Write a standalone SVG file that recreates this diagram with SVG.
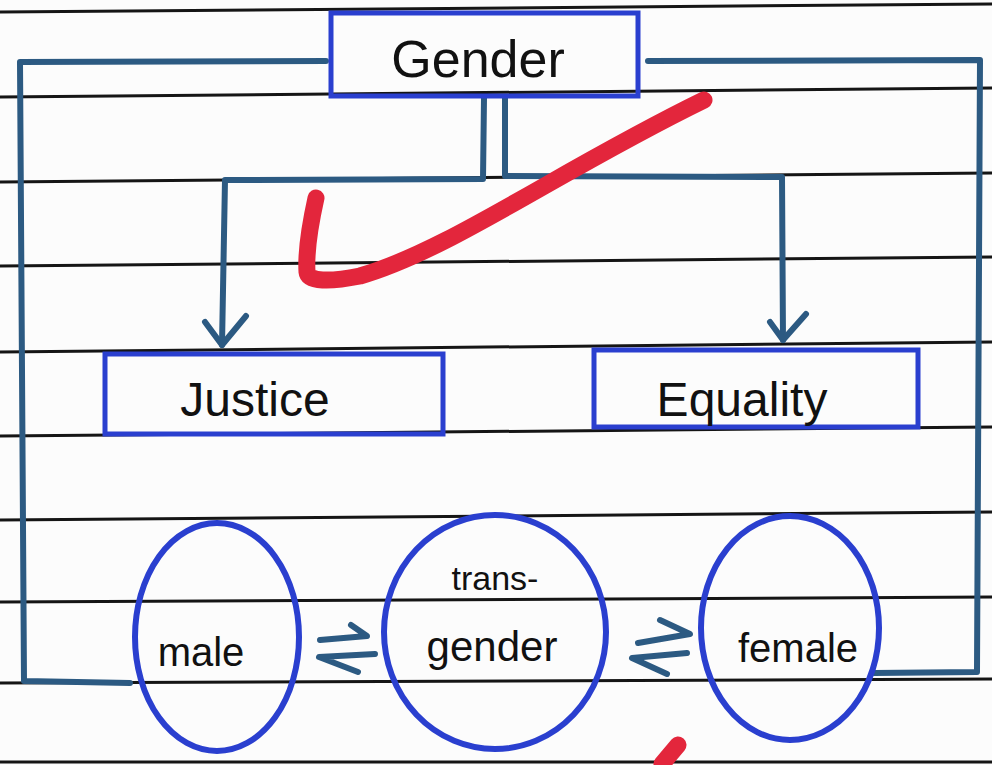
<svg xmlns="http://www.w3.org/2000/svg" width="992" height="765" viewBox="0 0 992 765">
  <style>
    .rule { stroke: #151515; stroke-width: 3; }
    .conn { fill: none; stroke: #2c5a82; stroke-width: 6; stroke-linecap: round; stroke-linejoin: round; }
    .box { fill: none; stroke: #2a3fcf; stroke-width: 5; }
    .oval { fill: none; stroke: #2a3fcf; stroke-width: 6; }
    .lbl { font-family: "Liberation Sans", "DejaVu Sans", sans-serif; fill: #111; text-anchor: middle; }
    .check { fill: none; stroke: #e3263c; stroke-width: 17; stroke-linecap: round; stroke-linejoin: round; }
  </style>
  <rect x="0" y="0" width="992" height="765" fill="#fcfcfc"/>
  <g id="ruled-lines">
    <line class="rule" x1="0" y1="12" x2="992" y2="4"/>
    <line class="rule" x1="0" y1="97" x2="992" y2="88"/>
    <line class="rule" x1="0" y1="182" x2="992" y2="173"/>
    <line class="rule" x1="0" y1="266" x2="992" y2="257"/>
    <line class="rule" x1="0" y1="352" x2="992" y2="342"/>
    <line class="rule" x1="0" y1="436" x2="992" y2="427"/>
    <line class="rule" x1="0" y1="520" x2="992" y2="512"/>
    <line class="rule" x1="0" y1="602" x2="992" y2="597"/>
    <line class="rule" x1="0" y1="683" x2="992" y2="679"/>
    <line class="rule" x1="0" y1="762" x2="992" y2="762"/>
  </g>
  <g id="connectors">
    <polyline class="conn" points="326,61 20,62 24,681 130,683"/>
    <polyline class="conn" points="648,61 980,60 977,672 874,673"/>
    <polyline class="conn" points="484,98 483,179 225,180 222,345"/>
    <polyline class="conn" points="505,98 505,176 782,177 783,340"/>
    <polyline class="conn" points="205,322 222,345 246,316"/>
    <polyline class="conn" points="770,322 783,340 806,314"/>
    <polyline class="conn" points="320,640 367,636 351,625"/>
    <polyline class="conn" points="358,672 319,657 375,654"/>
    <polyline class="conn" points="638,643 690,634 660,620"/>
    <polyline class="conn" points="667,674 632,658 687,653"/>
  </g>
  <g id="node-gender">
    <rect class="box" x="331" y="13" width="307" height="83"/>
    <text class="lbl" x="478" y="77" font-size="52">Gender</text>
  </g>
  <g id="node-justice">
    <rect class="box" x="105" y="354" width="338" height="80"/>
    <text class="lbl" x="255" y="416" font-size="48">Justice</text>
  </g>
  <g id="node-equality">
    <rect class="box" x="594" y="350" width="324" height="77"/>
    <text class="lbl" x="742" y="416" font-size="48">Equality</text>
  </g>
  <g id="node-male">
    <ellipse class="oval" cx="217" cy="637" rx="82" ry="114"/>
    <text class="lbl" x="201" y="666" font-size="40">male</text>
  </g>
  <g id="node-transgender">
    <ellipse class="oval" cx="495" cy="632" rx="111" ry="117"/>
    <text class="lbl" x="495" y="590" font-size="34">trans-</text>
    <text class="lbl" x="492" y="661" font-size="42">gender</text>
  </g>
  <g id="node-female">
    <ellipse class="oval" cx="790" cy="628" rx="89" ry="112"/>
    <text class="lbl" x="798" y="662" font-size="40">female</text>
  </g>
  <g id="red-marks">
    <path class="check" d="M316,198 C310,225 306,255 307,272 C308,282 330,282 360,276 C450,250 560,170 704,100"/>
    <path class="check" d="M662,764 L678,745"/>
  </g>
</svg>
